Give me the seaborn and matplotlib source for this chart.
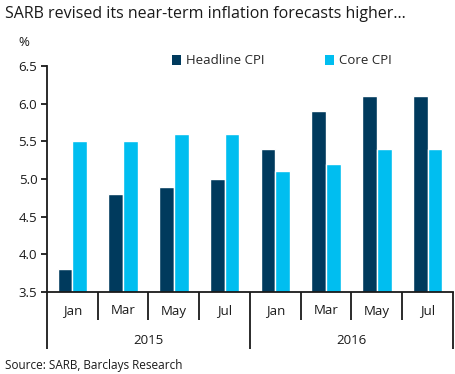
import pandas as pd
import matplotlib.pyplot as plt
import matplotlib.transforms as mtransforms
from matplotlib.patches import Patch
import seaborn as sns

# ── Data ──────────────────────────────────────────────────────────────────────
months = ["Jan", "Mar", "May", "Jul", "Jan", "Mar", "May", "Jul"]
years = ["2015", "2016"]
headline_cpi = [3.8, 4.8, 4.9, 5.0, 5.4, 5.9, 6.1, 6.1]
core_cpi = [5.5, 5.5, 5.6, 5.6, 5.1, 5.2, 5.4, 5.4]
y_ticks = [3.5, 4.0, 4.5, 5.0, 5.5, 6.0, 6.5]

series_names = ["Headline CPI", "Core CPI"]
colors = ["#003A5D", "#00BEF0"]

periods = [f"{m} {years[i // 4]}" for i, m in enumerate(months)]
df = pd.DataFrame({
    "period": periods * 2,
    "series": [series_names[0]] * len(periods) + [series_names[1]] * len(periods),
    "value": headline_cpi + core_cpi,
})

# ── Figure ────────────────────────────────────────────────────────────────────
sns.set_style("white")
plt.rcParams["font.family"] = ["Open Sans", "DejaVu Sans"]

fig = plt.figure(figsize=(4.56, 3.74), dpi=100)
ax = fig.add_axes([47 / 456, 1 - 292 / 374, 406 / 456, (292 - 66) / 374])

sns.barplot(data=df, x="period", y="value", hue="series", order=periods,
            hue_order=series_names, palette=colors, width=0.58, saturation=1,
            dodge=True, ax=ax, legend=False)
# bars start at 3.5 baseline: seaborn draws from 0, clip with ylim
ax.set_ylim(3.5, 6.5)
ax.set_xlim(-0.5, len(periods) - 0.5)
ax.set_yticks(y_ticks)
ax.set_yticklabels([f"{t:.1f}" for t in y_ticks])
ax.set_xticks([])
ax.set_xlabel("")
ax.set_ylabel("")

for s in ["top", "right"]:
    ax.spines[s].set_visible(False)
for s in ["left", "bottom"]:
    ax.spines[s].set_color("#1a1a1a")
    ax.spines[s].set_linewidth(1.3)
ax.tick_params(axis="y", direction="out", length=4, width=1.3, color="#1a1a1a",
               labelsize=9.5, labelcolor="#1a1a1a", pad=3, left=True)

# ── Two-level category axis ───────────────────────────────────────────────────
trans = mtransforms.blended_transform_factory(ax.transData, ax.transAxes)
h_ax = (292 - 66) / 374 * 3.74 * 100  # axes height in px
month_drop = (320 - 292) / h_ax
year_drop = (349 - 292) / h_ax

for i in range(len(periods) + 1):
    x = i - 0.5
    drop = year_drop if i % 4 == 0 else month_drop
    ax.plot([x, x], [0, -drop], transform=trans, color="#1a1a1a", lw=1.3,
            clip_on=False, solid_capstyle="butt")

for i, m in enumerate(months):
    ax.text(i, -(311 - 292) / h_ax, m, transform=trans, ha="center",
            va="center", fontsize=9.5, color="#1a1a1a")
for j, yr in enumerate(years):
    ax.text(j * 4 + 1.5, -(340 - 292) / h_ax, yr, transform=trans,
            ha="center", va="center", fontsize=9.5, color="#1a1a1a")

# ── Legend ────────────────────────────────────────────────────────────────────
handles = [Patch(facecolor=c, edgecolor="none", label=n)
           for c, n in zip(colors, series_names)]
fig.legend(handles=handles, loc="center left", bbox_to_anchor=(172 / 456, 1 - 61 / 374),
           ncol=2, frameon=False, fontsize=9.5, handlelength=0.7, handleheight=0.7,
           handletextpad=0.35, columnspacing=4.6, borderaxespad=0, borderpad=0)

# ── Texts ─────────────────────────────────────────────────────────────────────
fig.text(5 / 456, 1 - 14 / 374, "SARB revised its near-term inflation forecasts higher…",
         ha="left", va="center", fontsize=11.5, color="#1a1a1a")
fig.text(24 / 456, 1 - 43 / 374, "%", ha="center", va="center", fontsize=9.5,
         color="#1a1a1a")
fig.text(5 / 456, 1 - 365 / 374, "Source: SARB, Barclays Research", ha="left",
         va="center", fontsize=8.5, color="#1a1a1a")

fig.savefig("out.png", dpi=100, facecolor="white")
